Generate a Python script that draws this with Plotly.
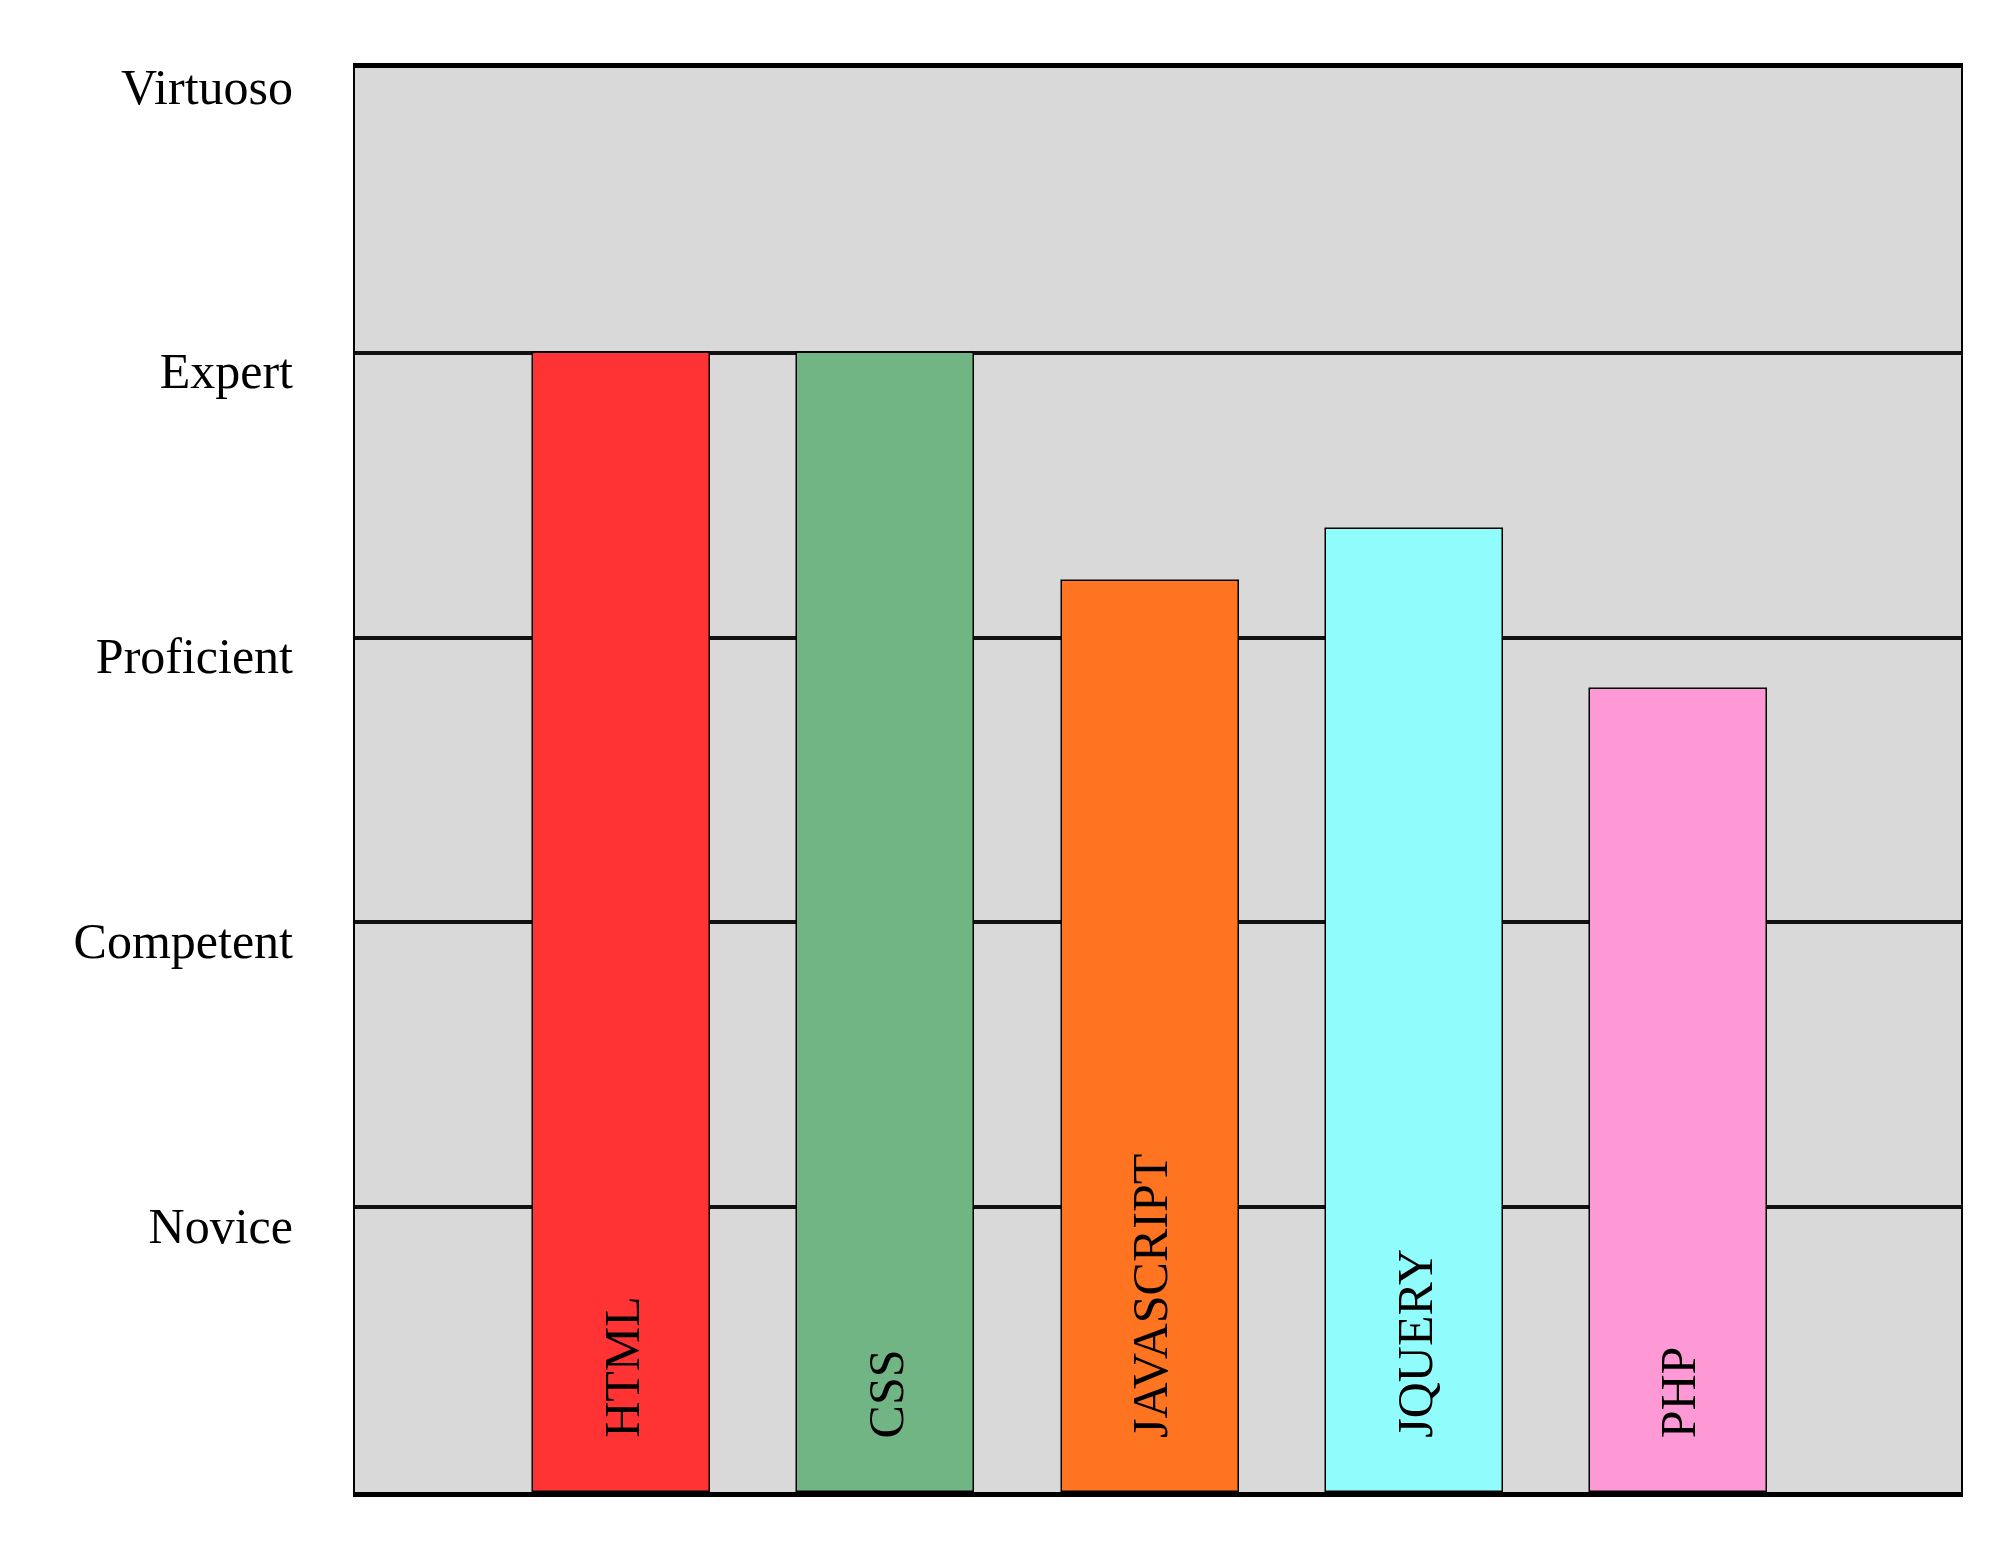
import plotly.graph_objects as go

skills = ["HTML", "CSS", "JAVASCRIPT", "JQUERY", "PHP"]
levels = [4.0, 4.0, 3.2, 3.38, 2.82]
colors = ["#FF3333", "#72B584", "#FF7420", "#90FCFC", "#FF99D6"]
tick_vals = [1, 2, 3, 4, 5]
tick_text = ["Novice", "Competent", "Proficient", "Expert", "Virtuoso"]

FONT = "Liberation Serif"

fig = go.Figure()
fig.add_trace(go.Bar(
    x=skills, y=levels, width=0.67,
    marker=dict(color=colors, line=dict(color="#000000", width=1.5)),
    hoverinfo="skip", showlegend=False,
))

for s in skills:
    fig.add_annotation(x=s, y=0, xref="x", yref="y", text=s, textangle=-90,
                       showarrow=False, yanchor="bottom", xanchor="center", yshift=52,
                       font=dict(family=FONT, size=50, color="#000000"))

fig.update_layout(
    width=2000, height=1545,
    margin=dict(l=347, r=47, t=60, b=61),
    paper_bgcolor="#FFFFFF", plot_bgcolor="#D9D9D9",
    font=dict(family=FONT, size=50, color="#000000"),
    bargap=0,
)
fig.update_xaxes(
    range=[-1.01, 5.07], showticklabels=False, showgrid=False, zeroline=False,
    showline=True, linecolor="#000000", linewidth=5, mirror=True, ticks="",
)
fig.update_yaxes(
    range=[0, 5], tickvals=tick_vals, ticktext=tick_text,
    ticklabelposition="outside", ticks="", ticklabelstandoff=50, ticklabelshift=18,
    showgrid=True, gridcolor="#111111", gridwidth=3.5, zeroline=False,
    showline=True, linecolor="#000000", linewidth=2, mirror=True,
    tickfont=dict(family=FONT, size=50, color="#000000"),
)

fig.write_html("out.html")
